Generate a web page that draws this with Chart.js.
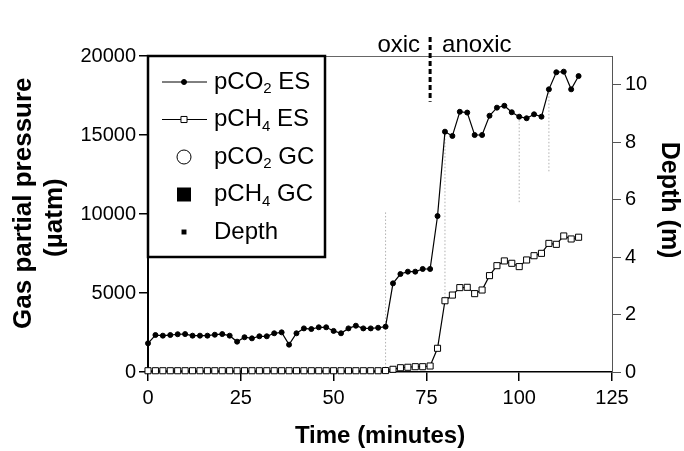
<!DOCTYPE html>
<html>
<head>
<meta charset="utf-8">
<script src="https://cdn.jsdelivr.net/npm/chart.js@4.4.1/dist/chart.umd.min.js"></script>
<style>
  html, body { margin: 0; padding: 0; background: #fff; }
  canvas { display: block; }
</style>
</head>
<body>
<canvas id="chart" width="684" height="451"></canvas>
<script>
// sampling times (minutes)
const times = [0, 2, 4, 6, 8, 10, 12, 14, 16, 18, 20, 22, 24, 26, 28, 30, 32, 34, 36, 38,
    40, 42, 44, 46, 48, 50, 52, 54, 56, 58, 60, 62, 64, 66, 68, 70, 72, 74, 76, 78,
    80, 82, 84, 86, 88, 90, 92, 94, 96, 98, 100, 102, 104, 106, 108, 110, 112, 114, 116];

// equilibrator sensor readings (uatm)
const pco2ES = [1815, 2340, 2300, 2340, 2390, 2400, 2300, 2300, 2300, 2360,
    2400, 2300, 1920, 2200, 2130, 2260, 2260, 2450, 2510, 1730,
    2450, 2760, 2720, 2830, 2830, 2600, 2450, 2760, 2930, 2760,
    2760, 2800, 2870, 5610, 6200, 6350, 6350, 6520, 6520, 9870,
    15210, 14940, 16470, 16420, 15000, 15000, 16220, 16730, 16850, 16440,
    16160, 16060, 16310, 16160, 17890, 18970, 19010, 17890, 18730];
const pch4ES = [80, 80, 80, 80, 80, 80, 80, 80, 80, 80,
    80, 80, 80, 80, 80, 80, 80, 80, 80, 80,
    80, 80, 80, 80, 80, 80, 80, 80, 80, 80,
    80, 80, 90, 170, 270, 300, 335, 335, 380, 1500,
    4510, 4870, 5340, 5360, 4960, 5190, 6100, 6730, 7030, 6880,
    6670, 7090, 7360, 7510, 8140, 8080, 8610, 8420, 8530];

// no GC samples / depth points visible in the plot
const pco2GC = [];
const pch4GC = [];
const depth = [];

// thin dotted guides: [time, upper uatm, lower uatm]
const guideLines = [[64, 10100, 0], [80, 15210, 4510], [100, 16160, 10700], [108, 17890, 12600]];

// oxic / anoxic boundary
const zoneBoundary = 76;
const zoneMarker = [21200, 17100];
const zoneLabels = ["oxic", "anoxic"];

const legendLabels = ["pCO2 ES", "pCH4 ES", "pCO2 GC", "pCH4 GC", "Depth"];

Chart.defaults.font.family = "'Liberation Sans', Arial, sans-serif";
Chart.defaults.color = "#000";

const toPoints = (xs, ys) => xs.map((x, i) => ({ x: x, y: ys[i] }));

const guideData = [];
guideLines.forEach(([t, hi, lo]) => {
    guideData.push({ x: t, y: hi }, { x: t, y: lo }, { x: t, y: null });
});

// draws the boxed legend in the top-left corner, with subscript digits
const boxLegend = {
    id: "boxLegend",
    afterDatasetsDraw(chart) {
        const ctx = chart.ctx;
        const left = chart.chartArea.left;
        const top = chart.chartArea.top;
        ctx.save();
        ctx.fillStyle = "#fff";
        ctx.fillRect(left, top, 177, 201);
        ctx.lineWidth = 2.5;
        ctx.strokeStyle = "#000";
        ctx.strokeRect(left, top, 177, 201);

        chart.data.datasets.filter(ds => ds.label).forEach((ds, i) => {
            const y = top + 26 + i * 37.5;
            const cx = left + 36;
            if (ds.showLine !== false) {
                ctx.beginPath();
                ctx.lineWidth = 1;
                ctx.strokeStyle = "#000";
                ctx.moveTo(left + 14, y);
                ctx.lineTo(left + 59, y);
                ctx.stroke();
            }
            ctx.fillStyle = ds.pointBackgroundColor;
            ctx.strokeStyle = ds.pointBorderColor;
            ctx.lineWidth = ds.pointBorderWidth;
            Chart.helpers.drawPoint(ctx, {
                pointStyle: ds.pointStyle,
                radius: ds.pointRadius,
                rotation: 0,
                borderWidth: ds.pointBorderWidth
            }, cx, y);

            // text, digits as subscripts
            let x = left + 66;
            ctx.fillStyle = "#000";
            ctx.textBaseline = "middle";
            ctx.textAlign = "left";
            ds.label.split(/(\d)/).forEach(part => {
                if (!part) return;
                const sub = /\d/.test(part);
                ctx.font = (sub ? "15px" : "24px") + " 'Liberation Sans', Arial, sans-serif";
                ctx.fillText(part, x, sub ? y + 7 : y);
                x += ctx.measureText(part).width;
            });
        });
        ctx.restore();
    },
    afterDraw(chart) {
        const ctx = chart.ctx;
        const bx = chart.scales.x.getPixelForValue(zoneBoundary);
        ctx.save();
        ctx.font = "24px 'Liberation Sans', Arial, sans-serif";
        ctx.fillStyle = "#000";
        ctx.textBaseline = "alphabetic";
        ctx.textAlign = "right";
        ctx.fillText(zoneLabels[0], bx - 10, 52);
        ctx.textAlign = "left";
        ctx.fillText(zoneLabels[1], bx + 12, 52);
        ctx.restore();
    }
};

const plain = v => String(v);

new Chart(document.getElementById("chart"), {
    type: "line",
    data: {
        datasets: [
            {
                label: legendLabels[0],
                data: toPoints(times, pco2ES),
                borderColor: "#000",
                borderWidth: 1.2,
                pointStyle: "circle",
                pointRadius: 2.5,
                pointBackgroundColor: "#000",
                pointBorderColor: "#000",
                pointBorderWidth: 1,
                yAxisID: "y",
                clip: false
            },
            {
                label: legendLabels[1],
                data: toPoints(times, pch4ES),
                borderColor: "#000",
                borderWidth: 1.2,
                pointStyle: "rect",
                pointRadius: 4.3,
                pointBackgroundColor: "#fff",
                pointBorderColor: "#000",
                pointBorderWidth: 1,
                yAxisID: "y",
                clip: false
            },
            {
                label: legendLabels[2],
                data: pco2GC,
                showLine: false,
                pointStyle: "circle",
                pointRadius: 7,
                pointBackgroundColor: "#fff",
                pointBorderColor: "#000",
                pointBorderWidth: 1,
                yAxisID: "y"
            },
            {
                label: legendLabels[3],
                data: pch4GC,
                showLine: false,
                pointStyle: "rect",
                pointRadius: 9.9,
                pointBackgroundColor: "#000",
                pointBorderColor: "#000",
                pointBorderWidth: 0,
                yAxisID: "y"
            },
            {
                label: legendLabels[4],
                data: depth,
                showLine: false,
                pointStyle: "rect",
                pointRadius: 3.5,
                pointBackgroundColor: "#000",
                pointBorderColor: "#000",
                pointBorderWidth: 0,
                yAxisID: "y2"
            },
            {
                data: guideData,
                borderColor: "#b0b0b0",
                borderWidth: 1,
                borderDash: [1.5, 2],
                pointRadius: 0,
                spanGaps: false,
                yAxisID: "y"
            },
            {
                data: toPoints([zoneBoundary, zoneBoundary], zoneMarker),
                borderColor: "#000",
                borderWidth: 3,
                borderDash: [5, 3],
                pointRadius: 0,
                yAxisID: "y",
                clip: false
            }
        ]
    },
    options: {
        responsive: false,
        animation: false,
        events: [],
        layout: { padding: { top: 56, left: 0, right: 0, bottom: 0 } },
        plugins: {
            legend: { display: false },
            tooltip: { enabled: false }
        },
        scales: {
            x: {
                type: "linear",
                position: "bottom",
                min: 0,
                max: 125,
                ticks: { stepSize: 25, font: { size: 20 }, padding: 5, maxRotation: 0, callback: plain },
                grid: { drawOnChartArea: false, tickLength: 9, color: "#000", lineWidth: 1.5 },
                border: { color: "#000", width: 1.5 },
                title: {
                    display: true,
                    text: "Time (minutes)",
                    font: { size: 24, weight: "bold" },
                    padding: 0
                },
                afterFit: s => { s.height = 79; }
            },
            xTop: {
                type: "linear",
                position: "top",
                min: 0,
                max: 125,
                ticks: { display: false },
                grid: { drawOnChartArea: false, drawTicks: false },
                border: { color: "#666", width: 1 },
                afterFit: s => { s.height = 0; }
            },
            y: {
                position: "left",
                min: 0,
                max: 20000,
                ticks: { stepSize: 5000, font: { size: 20 }, padding: 3, callback: plain },
                grid: { drawOnChartArea: false, tickLength: 9, color: "#000", lineWidth: 1.5 },
                border: { color: "#000", width: 2 },
                title: {
                    display: true,
                    // leading / trailing spaces nudge the lines like the original
                    text: ["   Gas partial pressure", "(µatm) "],
                    font: { size: 26, weight: "bold" },
                    padding: { top: 8, bottom: 0 }
                },
                afterFit: s => { s.width = 148; }
            },
            y2: {
                position: "right",
                min: 0,
                max: 11,
                ticks: { stepSize: 2, includeBounds: false, font: { size: 20 }, padding: 4, callback: plain },
                grid: { drawOnChartArea: false, tickLength: 9, color: "#555", lineWidth: 1 },
                border: { color: "#555", width: 1 },
                title: {
                    display: true,
                    text: "Depth (m)    ",
                    font: { size: 25, weight: "bold" },
                    padding: { top: 0, bottom: 0 }
                },
                afterFit: s => { s.width = 72; }
            }
        }
    },
    plugins: [boxLegend]
});
</script>
</body>
</html>
